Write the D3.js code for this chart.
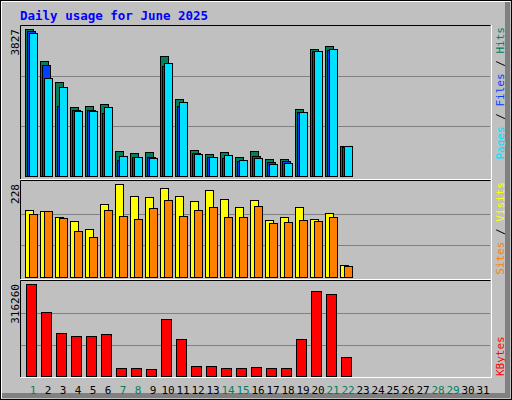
<!DOCTYPE html>
<html><head><meta charset="utf-8">
<script src="https://cdn.jsdelivr.net/npm/d3@7"></script>
<style>body{margin:0;background:#fff}svg{display:block}text{font-family:"DejaVu Sans Mono",monospace}</style>
</head><body><div id="c"></div>
<script>
const days = d3.range(1,32);
const weekend = [1,7,8,14,15,21,22,28,29];
const hits  = [3827,2994,2447,1796,1822,1874,651,599,625,3124,2004,677,573,625,495,651,443,443,1744,3306,3384,781];
const files = [3775,2889,1822,1718,1718,1640,416,495,495,2863,1822,599,495,469,390,521,364,390,1666,3254,3280,755];
const pages = [3722,2551,2317,1692,1692,1796,521,495,469,2941,1926,573,495,547,416,469,312,338,1666,3254,3306,781];
const visits= [164,162,147,137,118,179,228,199,196,218,199,186,213,191,172,189,140,147,172,142,157,29];
const sites = [154,162,145,113,98,164,150,142,169,189,150,164,172,147,147,174,132,135,140,137,147,27];
const kbytes= [316260,220006,147817,137504,137504,144379,27501,27501,24063,195943,127191,34376,34376,27501,27501,30938,27501,27501,127191,292196,281883,65314];

const svg = d3.select("#c").append("svg").attr("width",512).attr("height",400);
// outer frame
svg.append("rect").attr("x",0.5).attr("y",0.5).attr("width",511).attr("height",399).attr("fill","#c0c0c0").attr("stroke","#000");
svg.append("path").attr("d","M1.5,398.5V1.5H510.5").attr("fill","none").attr("stroke","#fff");
svg.append("path").attr("d","M2,395.5H507.5V2").attr("fill","none").attr("stroke","#808080").attr("stroke-width",5);
svg.append("text").attr("x",20).attr("y",20).attr("fill","#0000ff").attr("font-weight","bold").attr("font-size",12.5).text("Daily usage for June 2025");

const x = d3.scaleLinear().domain([1,31]).range([25,475]);

function panel(top,bot,base,ytop,max){
  svg.append("rect").attr("x",20.5).attr("y",top+0.5).attr("width",470).attr("height",bot-top).attr("fill","#c0c0c0").attr("stroke","none");
  svg.append("path").attr("d",`M20.5,${bot}V${top+0.5}H490.5`).attr("fill","none").attr("stroke","#000");
  svg.append("path").attr("d",`M20.5,${bot+0.5}H491.5V${top}`).attr("fill","none").attr("stroke","#fff");
  const y = d3.scaleLinear().domain([0,max]).range([base,ytop]);
  [1/3,2/3].forEach(f=>{const yy=Math.round(base-(base-ytop)*f*1.02)+0.5;
    svg.append("line").attr("x1",21).attr("x2",490).attr("y1",yy).attr("y2",yy).attr("stroke","#808080");});
  return y;
}
function bars(data,y,dx,w,color){
  svg.append("g").selectAll("rect").data(data).join("rect")
   .attr("x",(d,i)=>x(i+1)+dx+0.5).attr("y",d=>Math.round(y(d))+0.5)
   .attr("width",w).attr("height",d=>y(0)-Math.round(y(d)))
   .attr("fill",color).attr("stroke","#000");
}
const y1 = panel(25,179,176,29,3827);
bars(hits,y1,0,8,"#00805c");
bars(files,y1,2,8,"#0040ff");
bars(pages,y1,4,8,"#00e0ff");
const y2 = panel(180,279,277,184,228);
bars(visits,y2,0,8,"#ffff00");
bars(sites,y2,4,8,"#ff8000");
const y3 = panel(280,377,376,284,316260);
bars(kbytes,y3,1,10,"#ff0000");

function vlabel(xp,yp,parts,anchor){
  const t=svg.append("text").attr("transform",`translate(${xp},${yp}) rotate(-90)`).attr("font-size",11).attr("text-anchor",anchor);
  parts.forEach(p=>t.append("tspan").attr("fill",p[1]).text(p[0]));
}
vlabel(19,29,[["3827","#000"]],"end");
vlabel(19,184,[["228","#000"]],"end");
vlabel(19,284,[["316260","#000"]],"end");
vlabel(504,27,[["Pages","#00e0ff"],[" / ","#000"],["Files","#0040ff"],[" / ","#000"],["Hits","#00805c"]],"end");
vlabel(504,182,[["Sites","#ff8000"],[" / ","#000"],["Visits","#ffff00"]],"end");
vlabel(504,376,[["KBytes","#ff0000"]],"start");

svg.append("g").selectAll("text").data(days).join("text")
  .attr("x",d=>x(d)+8).attr("y",394).attr("text-anchor","middle").attr("font-size",11)
  .attr("fill",d=>weekend.includes(d)?"#00805c":"#000").text(d=>d);
</script></body></html>
